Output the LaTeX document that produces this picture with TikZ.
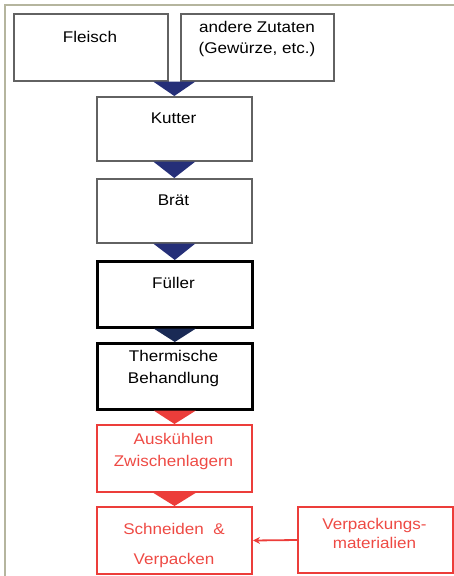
\documentclass[tikz,border=0pt]{standalone}
\usepackage{fontspec}
\setmainfont{Liberation Sans}[FakeStretch=1.1]
\usetikzlibrary{arrows.meta,calc}
\definecolor{framec}{HTML}{B5B59E}
\definecolor{boxgray}{HTML}{626262}
\definecolor{navyc}{HTML}{252F78}
\definecolor{darknavy}{HTML}{1A2A55}
\definecolor{redc}{HTML}{EC3D3A}
\definecolor{redtext}{HTML}{EE4A44}
\begin{document}
\begin{tikzpicture}[x=1pt,y=-1pt,
  box/.style={draw=boxgray, line width=1.6pt, inner sep=0pt, anchor=north west, minimum width=155pt, minimum height=66pt},
  thickbox/.style={box, draw=black, line width=2.6pt},
  redbox/.style={box, draw=redc, line width=2pt},
  txt/.style={inner sep=0pt, align=center, font=\fontsize{15.5}{21.5}\selectfont},
  redtxt/.style={txt, text=redtext},
  navytri/.style={fill=navyc},
  darktri/.style={fill=darknavy},
  redtri/.style={fill=redc}]
\useasboundingbox (0,0) rectangle (454,576);
% frame
\draw[framec, line width=2pt] (4.5,576) -- (4.5,4.5) -- (454,4.5);
% boxes
\node[box, minimum width=154pt, minimum height=67pt] (fleisch) at (13,13) {};
\node[box, minimum width=153pt, minimum height=67pt] (zutaten) at (180,13) {};
\node[box, minimum height=64pt] (kutter) at (96,96) {};
\node[box, minimum height=64pt] (braet) at (96,178) {};
\node[thickbox] (fueller) at (96,260) {};
\node[thickbox] (therm) at (96,342) {};
\node[redbox, minimum height=67pt] (ausk) at (96,424) {};
\node[redbox, minimum height=67pt] (schn) at (96,506) {};
\node[redbox] (verp) at (297,506) {};
% texts
\node[txt] (tfleisch) at (90,37) {Fleisch};
\node[txt] (tzutaten) at (257,39) {andere Zutaten\\(Gewürze, etc.)};
\node[txt] (tkutter) at (173.5,118) {Kutter};
\node[txt] (tbraet) at (173.5,200) {Brät};
\node[txt] (tfueller) at (173.5,283) {Füller};
\node[txt] (ttherm) at (173.5,368.5) {Thermische\\Behandlung};
\node[redtxt] (tausk) at (173.5,451.5) {Auskühlen\\Zwischenlagern};
\node[redtxt, font=\fontsize{15.5}{30}\selectfont] (tschn) at (174,545) {Schneiden~~\&\\Verpacken};
\node[redtxt, font=\fontsize{15.5}{19}\selectfont] (tverp) at (374.5,533.5) {Verpackungs-\\materialien};
% triangle connectors
\coordinate (merge) at ($(fleisch.south east)!0.5!(zutaten.south west)$);
\fill[navytri] ($(merge)+(-21,0)$) -- ($(merge)+(21,0)$) -- (kutter.north) -- cycle;
\fill[navytri] ($(kutter.south)+(-21,0)$) -- ($(kutter.south)+(21,0)$) -- (braet.north) -- cycle;
\fill[navytri] ($(braet.south)+(-21,0)$) -- ($(braet.south)+(21,0)$) -- (fueller.north) -- cycle;
\fill[darktri] ($(fueller.south)+(-21,0)$) -- ($(fueller.south)+(21,0)$) -- (therm.north) -- cycle;
\fill[redtri] ($(therm.south)+(-21,0)$) -- ($(therm.south)+(21,0)$) -- (ausk.north) -- cycle;
\fill[redtri] ($(ausk.south)+(-21,0)$) -- ($(ausk.south)+(21,0)$) -- (schn.north) -- cycle;
% arrow
\draw[redc, line width=1.8pt, -{Stealth[length=7pt,width=7pt]}] (verp.west) -- (schn.east);
\end{tikzpicture}
\end{document}
